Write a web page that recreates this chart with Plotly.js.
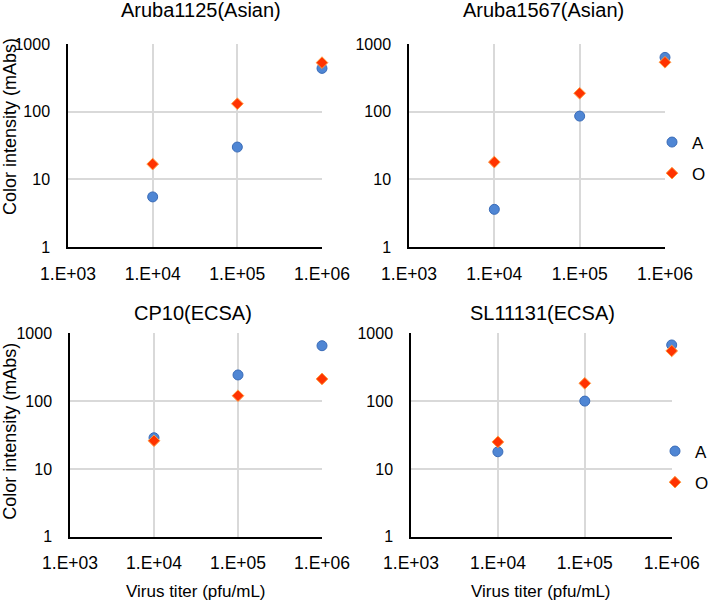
<!DOCTYPE html>
<html>
<head>
<meta charset="utf-8">
<script src="https://cdn.plot.ly/plotly-3.0.1.min.js"></script>
<style>
  body { margin: 0; background: #fff; }
  #grafica { width: 709px; height: 600px; }
</style>
</head>
<body>
<div id="grafica"></div>
<script>
// virus titer (pfu/mL)
const titer = [1e4, 1e5, 1e6];

// color intensity (mAbs), series A and O per strain
const aruba1125A = [5.5, 30, 436];
const aruba1125O = [16.8, 131, 530];
const aruba1567A = [3.6, 86, 634];
const aruba1567O = [18, 187, 537];
const cp10A = [28.8, 243, 656];
const cp10O = [26, 120, 212];
const sl11131A = [17.9, 100, 673];
const sl11131O = [25, 183, 550];

const panelTitles = ["Aruba1125(Asian)", "Aruba1567(Asian)", "CP10(ECSA)", "SL11131(ECSA)"];
const xTickVals = [1e3, 1e4, 1e5, 1e6];
const xTickText = ["1.E+03", "1.E+04", "1.E+05", "1.E+06"];
const yTickVals = [1, 10, 100, 1000];
const yTickText = ["1", "10", "100", "1000"];

const fuente = "Liberation Sans, Arial, sans-serif";
const W = 709, H = 600;

const marcadorA = { symbol: "circle", size: 10, color: "#4f86d4", line: { color: "#3a6cb8", width: 1 } };
const marcadorO = { symbol: "diamond", size: 9, color: "#ff3300", line: { color: "#ff9a40", width: 1 } };

function serie(nombre, y, n, marker, leyenda) {
  const ax = n === 1 ? "" : n;
  return {
    x: titer,
    y: y,
    name: nombre,
    type: "scatter",
    mode: "markers",
    marker: marker,
    cliponaxis: false,
    xaxis: "x" + ax,
    yaxis: "y" + ax,
    legend: leyenda || "legend",
    legendgroup: nombre + n,
    showlegend: !!leyenda,
    hovertemplate: "%{x:.0e}<br>%{y}<extra>" + nombre + "</extra>"
  };
}

const data = [
  serie("A", aruba1125A, 1, marcadorA),
  serie("O", aruba1125O, 1, marcadorO),
  serie("A", aruba1567A, 2, marcadorA, "legend"),
  serie("O", aruba1567O, 2, marcadorO, "legend"),
  serie("A", cp10A, 3, marcadorA),
  serie("O", cp10O, 3, marcadorO),
  serie("A", sl11131A, 4, marcadorA, "legend2"),
  serie("O", sl11131O, 4, marcadorO, "legend2")
];

// plot areas in pixels: [left, right, top, bottom]
const cajas = [
  [68, 322, 44, 247],
  [409, 665, 44, 247],
  [70, 322, 333.3, 536.7],
  [411, 671.7, 333.3, 536.7]
];

function ejeX(c) {
  return {
    type: "log",
    range: [3, 6],
    domain: [c[0] / W, c[1] / W],
    tickvals: xTickVals,
    ticktext: xTickText,
    tickfont: { family: fuente, size: 17.5, color: "#000" },
    ticks: "",
    ticklabelstandoff: 10,
    showgrid: true,
    gridcolor: "#d9d9d9",
    gridwidth: 1.5,
    showline: true,
    linecolor: "#000",
    linewidth: 1.5,
    zeroline: false,
    fixedrange: true
  };
}

function ejeY(c) {
  return {
    type: "log",
    range: [0, 3],
    domain: [1 - c[3] / H, 1 - c[2] / H],
    tickvals: yTickVals,
    ticktext: yTickText,
    tickfont: { family: fuente, size: 16, color: "#000" },
    ticks: "",
    ticklabelstandoff: 13,
    showgrid: true,
    gridcolor: "#d9d9d9",
    gridwidth: 1.5,
    showline: true,
    linecolor: "#000",
    linewidth: 1.5,
    zeroline: false,
    fixedrange: true
  };
}

const layout = {
  width: W,
  height: H,
  margin: { l: 0, r: 0, t: 0, b: 0, autoexpand: false },
  paper_bgcolor: "#fff",
  plot_bgcolor: "#fff",
  font: { family: fuente, size: 16, color: "#000" },
  legend: {
    x: 652 / W, y: 1 - 158 / H, xanchor: "left", yanchor: "middle",
    bgcolor: "rgba(0,0,0,0)", font: { family: fuente, size: 17 }, tracegroupgap: 6
  },
  legend2: {
    x: 655 / W, y: 1 - 467 / H, xanchor: "left", yanchor: "middle",
    bgcolor: "rgba(0,0,0,0)", font: { family: fuente, size: 17 }, tracegroupgap: 6
  },
  annotations: []
};

cajas.forEach(function (c, i) {
  const ax = i === 0 ? "" : i + 1;
  layout["xaxis" + ax] = Object.assign(ejeX(c), { anchor: "y" + ax });
  layout["yaxis" + ax] = Object.assign(ejeY(c), { anchor: "x" + ax });
});

// panel titles
const titulosPos = [[201, 10], [543, 10], [192.5, 312.5], [542, 312.5]];
panelTitles.forEach(function (t, i) {
  layout.annotations.push({
    text: t, xref: "paper", yref: "paper",
    x: titulosPos[i][0] / W, y: 1 - titulosPos[i][1] / H,
    xanchor: "center", yanchor: "middle", showarrow: false,
    font: { family: fuente, size: 20, color: "#000" }
  });
});

// y axis titles (left column)
[[10, 127], [10, 431.7]].forEach(function (p) {
  layout.annotations.push({
    text: "Color intensity (mAbs)", xref: "paper", yref: "paper",
    x: p[0] / W, y: 1 - p[1] / H, textangle: -90,
    xanchor: "center", yanchor: "middle", showarrow: false,
    font: { family: fuente, size: 18, color: "#000" }
  });
});

// x axis titles (bottom row)
[[196, 591.7], [541, 591.7]].forEach(function (p) {
  layout.annotations.push({
    text: "Virus titer (pfu/mL)", xref: "paper", yref: "paper",
    x: p[0] / W, y: 1 - p[1] / H,
    xanchor: "center", yanchor: "middle", showarrow: false,
    font: { family: fuente, size: 17, color: "#000" }
  });
});

Plotly.newPlot("grafica", data, layout, { displayModeBar: false });
</script>
</body>
</html>
